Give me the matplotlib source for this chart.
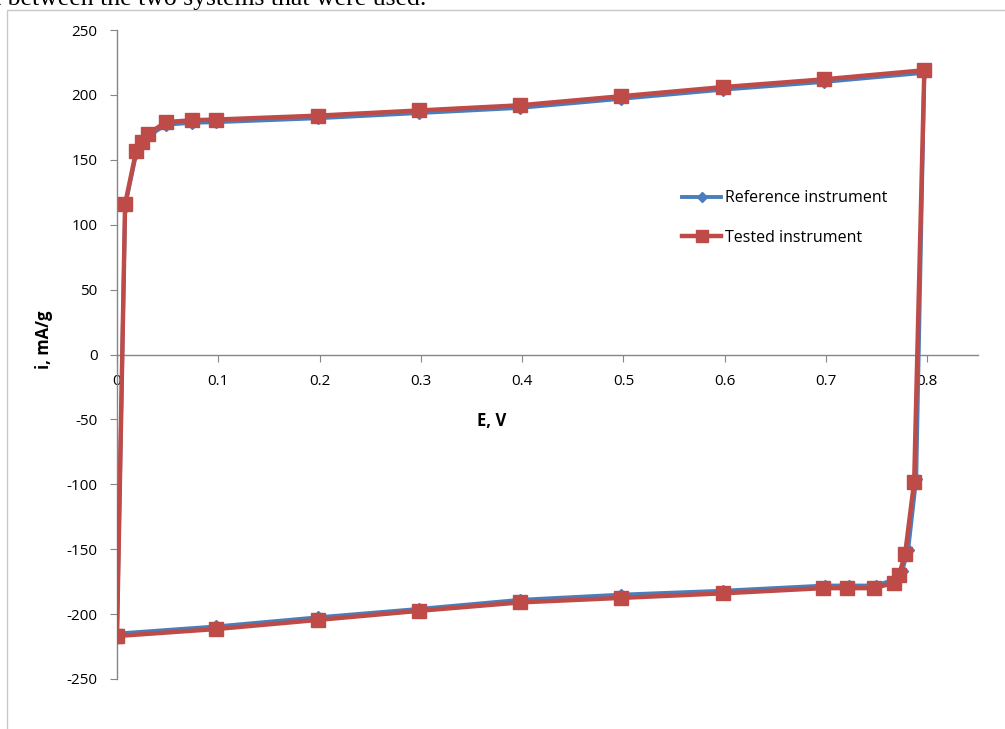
import matplotlib
matplotlib.use("Agg")
import matplotlib.pyplot as plt
from matplotlib.patches import Rectangle

# Tested instrument (red squares), loop order
tested_E = [0.0, 0.008, 0.019, 0.025, 0.031, 0.048, 0.074, 0.098, 0.198, 0.298, 0.398, 0.498, 0.598, 0.698, 0.797,
            0.787, 0.778, 0.772, 0.767, 0.747, 0.721, 0.697, 0.598, 0.498, 0.398, 0.298, 0.198, 0.098, -0.002]
tested_i = [-217, 116, 157, 164, 170, 179, 180.5, 181, 184, 188, 192, 199, 206, 212, 219,
            -98, -154, -170, -176, -180, -180, -180, -184, -187.5, -191, -197.5, -204.5, -211.5, -217]

# Reference instrument (blue diamonds)
ref_E = [0.0, 0.008, 0.019, 0.025, 0.031, 0.048, 0.074, 0.098, 0.198, 0.298, 0.398, 0.498, 0.598, 0.698, 0.797,
         0.789, 0.781, 0.775, 0.769, 0.749, 0.723, 0.699, 0.598, 0.498, 0.398, 0.298, 0.198, 0.098, 0.0]
ref_i = [-215, 114, 155, 162, 168, 177, 178.5, 179, 182, 186, 190, 197, 204, 210, 217,
         -96, -151, -167, -173, -178, -178, -178, -182, -185, -189, -196, -202.5, -209.5, -215]

x_ticks = [0, 0.1, 0.2, 0.3, 0.4, 0.5, 0.6, 0.7, 0.8]
x_labels = ["0", "0.1", "0.2", "0.3", "0.4", "0.5", "0.6", "0.7", "0.8"]
y_ticks = [-250, -200, -150, -100, -50, 0, 50, 100, 150, 200, 250]

FONT = "Open Sans"
W, H = 1005, 729
fig = plt.figure(figsize=(W / 100, H / 100), dpi=100)

# outer chart frame (cropped)
fig.patches.append(Rectangle((7 / W, -0.1), 1.2, 1 - 10 / H + 0.1, transform=fig.transFigure,
                             fill=False, edgecolor="#c8c8c8", linewidth=1.0))

# cropped caption text at top
fig.text(-6 / W, 1 - 5 / H, "t between the two systems that were used.", family="Liberation Serif",
         fontsize=18.5, va="baseline", ha="left")

ax = fig.add_axes([117 / W, 1 - 679 / H, (978 - 117) / W, (679 - 30) / H])
ax.set_facecolor("none")

blue = "#4a7ebb"
red = "#be4b48"
ax.plot(ref_E, ref_i, color=blue, lw=2.8, marker="D", ms=6, mfc=blue, mec=blue,
        label="Reference instrument", zorder=3)
ax.plot(tested_E, tested_i, color=red, lw=3.2, marker="s", ms=10, mfc=red, mec=red,
        label="Tested instrument", zorder=4)

ax.set_xlim(0, 0.85)
ax.set_ylim(-250, 250)
for s in ["top", "right"]:
    ax.spines[s].set_visible(False)
ax.spines["bottom"].set_position(("data", 0))
ax.spines["left"].set_position(("data", 0))
for s in ["bottom", "left"]:
    ax.spines[s].set_color("#868686")
    ax.spines[s].set_linewidth(1.0)

ax.set_xticks(x_ticks)
ax.set_xticklabels(x_labels, family=FONT, fontsize=11)
ax.set_yticks(y_ticks)
ax.set_yticklabels([str(v) for v in y_ticks], family=FONT, fontsize=11)
ax.tick_params(axis="x", direction="out", length=5, color="#868686", pad=9)
ax.tick_params(axis="y", direction="out", length=5, color="#868686", pad=9)

fig.text(492 / W, 1 - 421 / H, "E, V", family=FONT, fontweight="bold", fontsize=12,
         ha="center", va="center")
fig.text(44 / W, 1 - 340 / H, "i, mA/g", family=FONT, fontweight="bold", fontsize=12,
         ha="center", va="center", rotation=90)

leg = ax.legend(loc="upper left", bbox_to_anchor=(668 / W, 1 - 176 / H), bbox_transform=fig.transFigure,
                frameon=False, prop={"family": FONT, "size": 11.5}, handlelength=2.4,
                labelspacing=1.45, handletextpad=0.25, markerscale=0.8)

fig.savefig("out.png", dpi=100)
